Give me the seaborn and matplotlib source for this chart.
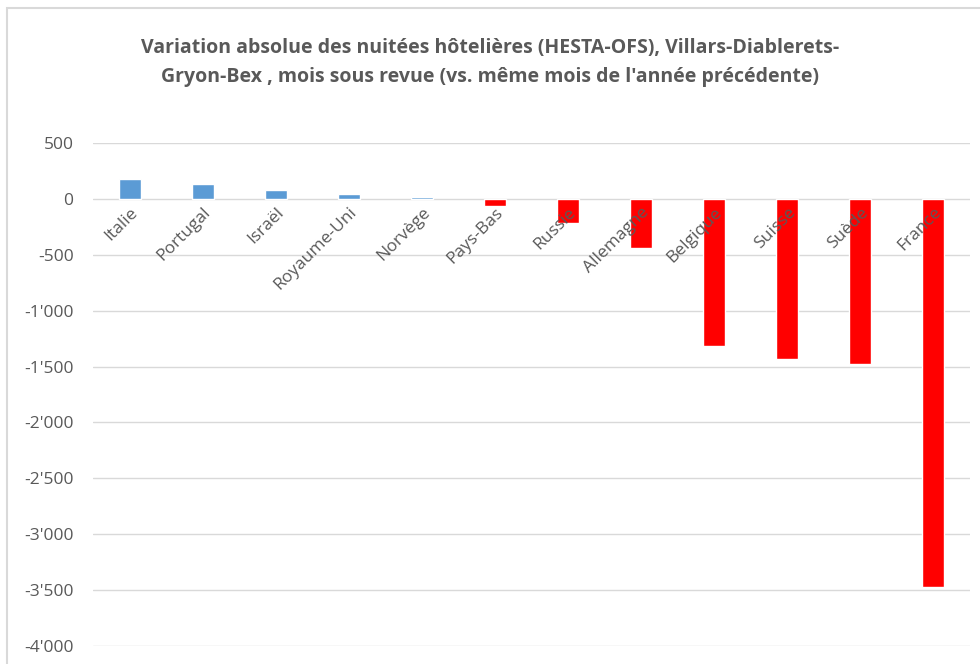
import matplotlib
matplotlib.use('Agg')
import matplotlib.pyplot as plt
import matplotlib.ticker as mticker
from matplotlib.patches import Rectangle
import seaborn as sns
import pandas as pd

# données
pays = ['Italie', 'Portugal', 'Israël', 'Royaume-Uni', 'Norvège', 'Pays-Bas',
        'Russie', 'Allemagne', 'Belgique', 'Suisse', 'Suède', 'France']
variation = [179, 130, 80, 41, 20, -66, -218, -443, -1313, -1430, -1481, -3475]

df = pd.DataFrame({'pays': pays, 'variation': variation})
df['signe'] = ['pos' if v >= 0 else 'neg' for v in df['variation']]

sns.set_style('white')
plt.rcParams['font.family'] = ['Open Sans', 'DejaVu Sans']

gris = '#595959'
fig = plt.figure(figsize=(9.8, 6.64), dpi=100)
ax = fig.add_axes([0.0949, 0.0271, 0.8949, 0.7575])

sns.barplot(data=df, x='pays', y='variation', hue='signe',
            palette={'pos': '#5B9BD5', 'neg': '#FF0000'}, saturation=1,
            width=0.3, dodge=False, legend=False, ax=ax)

ax.set_ylim(-4000, 500)
ax.set_yticks(range(-4000, 501, 500))
ax.yaxis.set_major_formatter(
    mticker.FuncFormatter(lambda v, p: f'{int(v):,}'.replace(',', "'")))
ax.grid(axis='y', color='#D9D9D9', linewidth=1)
ax.set_axisbelow(True)
ax.xaxis.set_zorder(5)  # étiquettes par-dessus les barres
for s in ax.spines.values():
    s.set_visible(False)
ax.spines['bottom'].set_position(('data', 0))
ax.set_xlabel('')
ax.set_ylabel('')
ax.tick_params(axis='both', length=0, labelsize=12.5, labelcolor=gris)
ax.tick_params(axis='y', pad=14)
ax.tick_params(axis='x', pad=4)
for lab in ax.get_xticklabels():
    lab.set_rotation(45)
    lab.set_ha('right')
    lab.set_va('top')
    lab.set_rotation_mode('anchor')

fig.text(0.5, 0.906,
         "Variation absolue des nuitées hôtelières (HESTA-OFS), Villars-Diablerets-\n"
         "Gryon-Bex , mois sous revue (vs. même mois de l'année précédente)",
         ha='center', va='center', fontsize=14, fontweight='bold', color=gris,
         linespacing=1.6)

# cadre du graphique
fig.add_artist(Rectangle((0.0071, -0.5), 2, 1.488, transform=fig.transFigure,
                         fill=False, edgecolor='#D9D9D9', linewidth=1.5))

fig.savefig('out.png', dpi=100)
